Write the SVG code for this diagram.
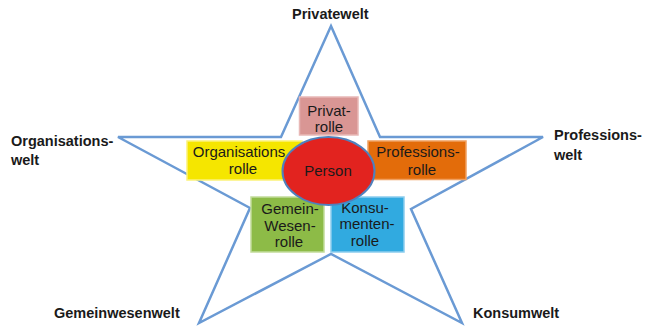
<svg xmlns="http://www.w3.org/2000/svg" width="645" height="327" viewBox="0 0 645 327">
  <style>
    .world { font-family: "Liberation Sans", Arial, sans-serif; font-weight: bold; font-size: 14.5px; fill: #1a1a1a; }
    .role { font-family: "Liberation Sans", Arial, sans-serif; font-size: 15px; fill: #1a1a1a; text-anchor: middle; }
    .star { fill: none; stroke: #6a9ad4; stroke-width: 2.5; stroke-linejoin: miter; }
    .box { stroke-width: 1.5; }
  </style>
  <rect width="645" height="327" fill="#ffffff"/>

  <!-- five-pointed star outline -->
  <g id="star">
    <polygon class="star" points="331,26 380,137 543,137 411,209 462,323 331,254 199,323 250,208 118,137 281,137"/>
  </g>

  <!-- outer labels at the star tips -->
  <g id="privatewelt"><text class="world" x="292" y="19">Privatewelt</text></g>
  <g id="organisationswelt"><text class="world" x="11" y="146">Organisations-</text><text class="world" x="11" y="165">welt</text></g>
  <g id="professionswelt"><text class="world" x="554" y="140">Professions-</text><text class="world" x="554" y="160">welt</text></g>
  <g id="gemeinwesenwelt"><text class="world" x="54" y="318">Gemeinwesenwelt</text></g>
  <g id="konsumwelt"><text class="world" x="473" y="318">Konsumwelt</text></g>

  <!-- role boxes -->
  <g id="privatrolle">
    <rect class="box" x="299.5" y="97" width="58.5" height="38" fill="#d99694" stroke="#e8b8b6"/>
    <text class="role" x="329" y="115.5">Privat-</text>
    <text class="role" x="329" y="132">rolle</text>
  </g>
  <g id="organisationsrolle">
    <rect class="box" x="187" y="141" width="115" height="39" fill="#f5e600" stroke="#fbf27a"/>
    <text class="role" x="239" y="157">Organisations</text>
    <text class="role" x="243" y="174">rolle</text>
  </g>
  <g id="professionsrolle">
    <rect class="box" x="368" y="141" width="98" height="38.5" fill="#e36c0a" stroke="#f0a060"/>
    <text class="role" x="418" y="157">Professions-</text>
    <text class="role" x="422" y="175">rolle</text>
  </g>
  <g id="gemeinwesenrolle">
    <rect class="box" x="251" y="197" width="73" height="55" fill="#8dbb47" stroke="#c2dc9a"/>
    <text class="role" x="290" y="214">Gemein-</text>
    <text class="role" x="290" y="230.5">Wesen-</text>
    <text class="role" x="289" y="247">rolle</text>
  </g>
  <g id="konsumentenrolle">
    <rect class="box" x="331" y="197" width="73" height="55" fill="#31aae0" stroke="#8ccdee"/>
    <text class="role" x="365" y="212.5">Konsu-</text>
    <text class="role" x="367" y="229">menten-</text>
    <text class="role" x="365" y="245.5">rolle</text>
  </g>

  <!-- central person -->
  <g id="person">
    <ellipse cx="328.5" cy="171" rx="46" ry="34" fill="#e2231f" stroke="#4f81bd" stroke-width="2"/>
    <text class="role" x="328" y="175.5">Person</text>
  </g>
</svg>
